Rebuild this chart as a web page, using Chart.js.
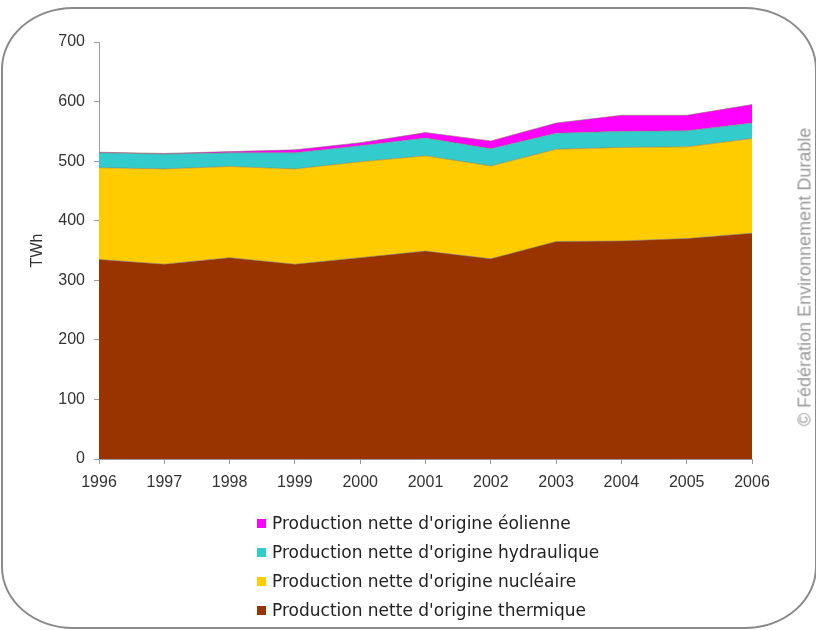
<!DOCTYPE html>
<html>
<head>
<meta charset="utf-8">
<script src="https://cdn.jsdelivr.net/npm/chart.js@4"></script>
<style>
  body { margin: 0; background: #fff; }
  #wrap { position: relative; width: 816px; height: 630px; overflow: hidden; }
  #frame {
    position: absolute; left: 1px; top: 7px; width: 812px; height: 618px;
    border: 2.5px solid #8a8a8a; border-radius: 72px / 62px;
  }
  #chart { position: absolute; left: 0; top: 0; }
  #legend {
    position: absolute; left: 257px; top: 511px;
    font-family: "DejaVu Sans", sans-serif; font-size: 17px; color: #222;
  }
  #legend div { height: 29px; line-height: 24px; white-space: nowrap; }
  #legend span.box { display: inline-block; width: 9px; height: 9px; margin-right: 6px; vertical-align: 1px; }
  #credit {
    position: absolute; left: 805px; top: 277px;
    transform: translate(-50%, -50%) rotate(-90deg);
    font-family: "Liberation Sans", Arial, sans-serif; font-size: 18px; color: #999;
    white-space: nowrap;
  }
</style>
</head>
<body>
<div id="wrap">
  <div id="frame"></div>
  <canvas id="chart" width="816" height="630"></canvas>
  <div id="legend"></div>
  <div id="credit">© Fédération Environnement Durable</div>
</div>
<script>
let years = ["1996", "1997", "1998", "1999", "2000", "2001", "2002", "2003", "2004", "2005", "2006"];
let thermique = [335, 327, 338, 327, 338, 349, 336, 365, 366, 370, 379];
let nucleaire = [154, 160, 153, 160, 161, 160, 156, 155, 157, 154, 159];
let hydraulique = [25, 25, 23, 27, 27, 30, 29, 27, 27, 27, 26];
let eolienne = [1, 1, 2, 5, 5, 9, 13, 17, 27, 26, 31];
let yTicks = [0, 100, 200, 300, 400, 500, 600, 700];

let series = [
  { label: "Production nette d'origine thermique", data: thermique, color: "#993300" },
  { label: "Production nette d'origine nucléaire", data: nucleaire, color: "#FFCC00" },
  { label: "Production nette d'origine hydraulique", data: hydraulique, color: "#33CCCC" },
  { label: "Production nette d'origine éolienne", data: eolienne, color: "#FF00FF" },
];

let tickFont = { family: "'Liberation Sans', Arial, sans-serif", size: 16 };

let ctx = document.getElementById("chart").getContext("2d");
new Chart(ctx, {
  type: "line",
  data: {
    labels: years,
    datasets: series.map((s, i) => ({
      label: s.label,
      data: s.data,
      backgroundColor: s.color,
      borderColor: "rgba(130, 120, 100, 0.55)",
      borderWidth: 1,
      fill: i == 0 ? "origin" : "-1",
      pointRadius: 0,
      tension: 0,
    })),
  },
  options: {
    responsive: false,
    animation: false,
    layout: { padding: { left: 0, top: 42, right: 64, bottom: 131 } },
    plugins: { legend: { display: false }, tooltip: { enabled: false } },
    scales: {
      x: {
        grid: { drawOnChartArea: false, tickLength: 5, color: "#999" },
        border: { color: "#999" },
        ticks: { font: tickFont, color: "#333", padding: 9, maxRotation: 0 },
        afterFit: (scale) => { scale.height = 40; },
      },
      y: {
        stacked: true,
        min: 0,
        max: 700,
        grid: { drawOnChartArea: false, tickLength: 5, color: "#999" },
        border: { color: "#999" },
        afterBuildTicks: (scale) => { scale.ticks = yTicks.map((v) => ({ value: v })); },
        ticks: { font: tickFont, color: "#333", padding: 9 },
        title: { display: true, text: "TWh", font: tickFont, color: "#333", padding: { top: 28, bottom: 0 } },
        afterFit: (scale) => { scale.width = 99; },
      },
    },
  },
});

// legend, top layer first like the original
let legend = document.getElementById("legend");
series.slice().reverse().forEach((s) => {
  let row = document.createElement("div");
  row.innerHTML = '<span class="box" style="background:' + s.color + '"></span>' + s.label;
  legend.appendChild(row);
});
</script>
</body>
</html>
